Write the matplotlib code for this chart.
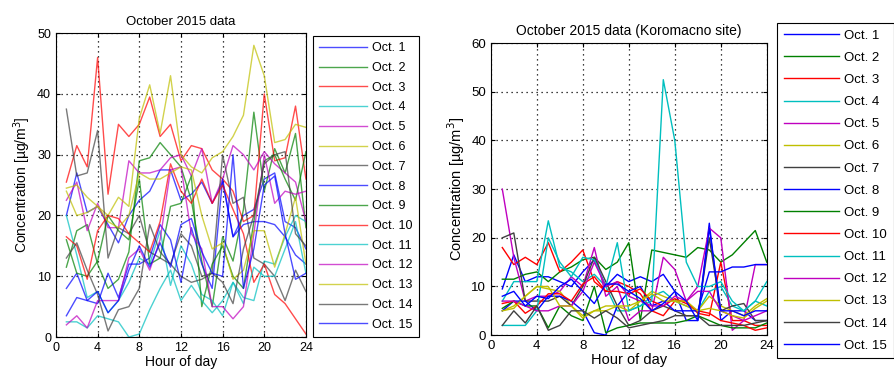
import matplotlib
matplotlib.use("Agg")
import matplotlib.pyplot as plt
import numpy as np

plt.rcParams['font.family'] = ['Liberation Sans', 'DejaVu Sans']

hours = np.arange(1, 25)
days = ["Oct. %d" % d for d in range(1, 16)]
colors = ['#0000ff', '#008000', '#ff0000', '#00bfbf', '#bf00bf', '#bfbf00', '#404040']

# left panel, Oct 1 .. Oct 15
left = [
    [20, 27, 20.5, 21.5, 18.5, 15.5, 20, 22.5, 24, 27.5, 27.5, 22.5, 23.5, 25.5, 22, 25.5, 16.5, 20, 21, 26, 27, 19, 18, 14.5],
    [11.5, 17.5, 18.5, 12, 8, 9.5, 14, 29, 29.5, 32, 30, 28, 22.5, 12.5, 5, 16.5, 12.5, 21, 37, 24, 31, 27, 33.5, 18],
    [25.5, 31.5, 28, 46, 23.5, 35, 33, 35, 39.5, 33, 35, 29, 31.5, 31, 27.5, 26, 24, 19, 20, 40, 29, 29.5, 38, 26],
    [20, 13.5, 6.5, 7.5, 4, 6, 9, 13, 12, 17.5, 8.5, 15, 12, 7, 6, 3.5, 9, 6.5, 6, 12.5, 12, 16.5, 20, 19],
    [22.5, 25.5, 17.5, 22, 18, 18, 29, 27, 27, 27.5, 29.5, 30, 26.5, 31, 22, 26, 31.5, 30, 27.5, 30.5, 28.5, 27, 25.5, 19],
    [24.5, 25, 23, 21.5, 20, 23, 21.5, 36, 41.5, 33.5, 43, 30, 28, 27, 29.5, 30.5, 33, 36.5, 48, 43, 32, 32.5, 35, 34.5],
    [37.5, 26.5, 27, 34, 13, 18, 17, 20, 14, 13, 12, 17, 15, 10, 10.5, 30, 22, 23, 13, 12, 10, 6, 11, 7.5],
    [8, 10.5, 6, 5.5, 10.5, 6.5, 12, 12, 13, 18.5, 16, 9, 18, 12, 8, 26, 16.5, 18.5, 19, 19, 18.5, 16.5, 13.5, 12],
    [16, 10.5, 10, 12.5, 20, 17.5, 16, 26, 12, 13, 21.5, 22, 26.5, 5, 12, 15, 10, 8, 19, 29, 30, 26, 22.5, 30.5],
    [16.5, 15, 9.5, 17.5, 20, 19.5, 17, 15.5, 14, 19, 28.5, 24, 22, 26, 22, 25, 21, 17, 9, 12, 7, 5.5, 3, 0.5],
    [2.5, 2.5, 1.5, 3.5, 3, 2.5, 0, 0.5, 4.5, 8, 11, 6, 8.5, 6, 4, 6, 9, 5.5, 11.5, 10, 10, 14.5, 19, 10.5],
    [2, 3.5, 1.5, 6, 6, 6, 13, 14.5, 11, 16, 27.5, 28, 17, 14.5, 5, 5, 3, 5, 17, 30, 22, 24, 23.5, 24],
    [24, 20, 20.5, 21.5, 19, 18, 20, 27, 26, 26, 27, 28, 27.5, 20, 14.5, 15.5, 9.5, 11, 17.5, 17.5, 11.5, 17, 23, 12],
    [13, 15.5, 11, 7, 1, 4.5, 5, 8, 18.5, 14, 12, 10, 9, 9.5, 10.5, 9, 5.5, 14.5, 20, 28.5, 30, 30.5, 17, 15],
    [3.5, 6.5, 6, 7.5, 4, 6, 11, 15, 11.5, 15.5, 11.5, 18.5, 19.5, 14, 10.5, 10, 30, 8, 14.5, 25, 26.5, 17, 9.5, 10.5],
]

# right panel (Koromacno site), Oct 1 .. Oct 15
right = [
    [9.5, 16.5, 11, 12, 12, 11, 10, 13, 15.5, 10, 12.5, 11, 12, 11, 12.5, 9, 3, 3, 23, 3, 5, 5, 3, 3],
    [11.5, 11.5, 12.5, 13, 11, 13, 14, 15.5, 16, 13.5, 15, 19, 3, 17.5, 17, 16.5, 16, 18, 17.5, 15, 16.5, 19, 21.5, 15],
    [18, 14.5, 16, 14.5, 19, 13, 15, 17.5, 11, 9, 11, 10, 8.5, 5, 4, 7, 7, 4.5, 4, 15, 3, 3, 2, 2],
    [7, 11, 11, 11, 23.5, 14, 13, 11, 12.5, 10, 5, 5, 6, 8, 9, 7, 6, 5, 9, 10, 6, 5, 7, 6],
    [30, 16, 7, 8, 8, 9, 12, 10, 18, 8, 10, 3, 5, 5, 16, 13.5, 7, 10, 22, 20, 1, 3, 14.5, 14.5],
    [5, 6, 8, 10, 9.5, 9, 6, 4, 5, 6, 6, 5, 7, 9, 8, 7, 6, 5, 8, 6, 5, 4, 6, 7.5],
    [20, 21, 7, 7, 7, 8, 6, 10, 16, 11, 6, 2, 3, 5, 6, 5, 4, 4, 20, 5, 6, 6.5, 3, 3],
    [5, 7, 7, 5, 8, 8, 7, 5, 0.5, 0, 6, 9, 10, 6, 7, 5, 5, 5, 13, 13, 14, 14, 14.5, 14.5],
    [5.5, 7, 6, 6, 1.5, 6, 4, 3, 10, 0.5, 1.5, 2, 2.5, 2.5, 2.5, 2.5, 3, 4, 3, 2, 1.5, 1.5, 1.5, 2.5],
    [6.5, 7, 4.5, 6, 8.5, 8.5, 7, 10.5, 12, 9, 9, 8.5, 9.5, 7, 6, 7.5, 6.5, 5, 4.5, 3, 2.5, 2, 1, 1.5],
    [2, 2, 2, 5, 20, 15, 12, 16, 15.5, 10, 19, 5, 6, 7, 52.5, 40, 15, 10, 10, 11, 7, 5, 7, 11],
    [7, 7, 6, 5, 5, 6, 6, 9, 15, 10, 11, 8, 7, 6, 6, 8, 7, 9, 9, 5, 4, 3, 4, 5],
    [5, 5.5, 8, 10, 10, 6, 6, 3.5, 5, 5, 6, 6, 7, 8.5, 7, 7, 7, 5, 5.5, 5, 4, 3.5, 5.5, 7],
    [2, 5, 2.5, 6, 1, 2, 5, 5, 3.5, 5, 3.5, 1.5, 2, 2.5, 3, 4, 4, 4, 2, 2, 2, 2, 2.5, 3],
    [8, 9, 6, 8, 7.5, 10, 11.5, 9, 6.5, 10.5, 10.5, 9, 7.5, 5, 6.5, 9, 7, 3, 22, 5, 5, 4, 5, 5],
]

fig = plt.figure(figsize=(8.94, 3.77), dpi=100)
ax1 = fig.add_axes([0.0626, 0.106, 0.2796, 0.806])
ax2 = fig.add_axes([0.549, 0.111, 0.3087, 0.7745])


def style(ax, ymax, title, fs):
    ax.set_xlim(0, 24)
    ax.set_ylim(0, ymax)
    ax.set_xticks(range(0, 25, 4))
    ax.set_yticks(range(0, ymax + 1, 10))
    ax.grid(True, color='k', linestyle=(0, (1, 3)), linewidth=0.9)
    ax.tick_params(direction='in', top=True, right=True, labelsize=fs, length=3)
    ax.set_xlabel("Hour of day", fontsize=fs + 1, labelpad=1)
    ax.set_ylabel("Concentration [µg/m$^3$]", fontsize=fs + 1, labelpad=3)
    ax.set_title(title, fontsize=fs + 0.5, pad=6)
    for s in ax.spines.values():
        s.set_linewidth(0.8)


for i, vals in enumerate(left):
    ax1.plot(hours, vals, color=colors[i % 7], lw=1, alpha=0.7, label=days[i])
for i, vals in enumerate(right):
    ax2.plot(hours, vals, color=colors[i % 7], lw=1, label=days[i])

style(ax1, 50, "October 2015 data", 9)
style(ax2, 60, "October 2015 data (Koromacno site)", 9.5)

leg1 = ax1.legend(loc='upper left', bbox_to_anchor=(313 / 894, 1 - 36 / 377),
                  bbox_transform=fig.transFigure, fontsize=9, handlelength=3.8,
                  labelspacing=0.62, borderaxespad=0, fancybox=False,
                  edgecolor='k', framealpha=1, borderpad=0.5, handletextpad=0.4)
leg1.get_frame().set_linewidth(0.8)
leg2 = ax2.legend(loc='upper left', bbox_to_anchor=(777 / 894, 1 - 23 / 377),
                  bbox_transform=fig.transFigure, fontsize=9.5, handlelength=4.2,
                  labelspacing=0.75, borderaxespad=0, fancybox=False,
                  edgecolor='k', framealpha=1, borderpad=0.5, handletextpad=0.4)
leg2.get_frame().set_linewidth(0.8)

fig.savefig("out.png", dpi=100)
